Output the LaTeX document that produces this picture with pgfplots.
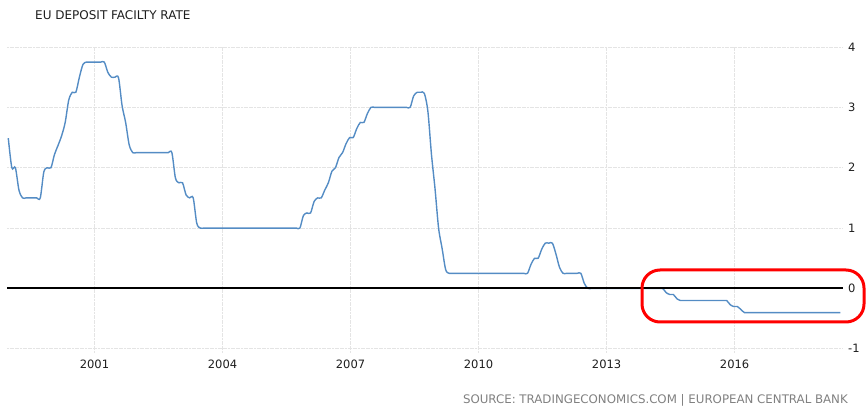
\documentclass[border=0pt]{standalone}
\usepackage{pgfplots}
\pgfplotsset{compat=1.18}
\usepackage{pgfplotstable}
\usepackage{fontspec}
\setmainfont{DejaVu Sans}
\definecolor{rateblue}{RGB}{84,140,196}
\definecolor{gridgray}{RGB}{228,228,228}
\definecolor{txt}{RGB}{30,30,30}
\definecolor{srcgray}{RGB}{128,128,128}

% monthly deposit facility rate, Jan 1999 onwards
\pgfplotstableread[row sep=\\]{
v\\
2.49\\2.0\\2.0\\1.63\\1.5\\1.5\\1.5\\1.5\\1.5\\1.5\\1.93\\2.0\\
2.0\\2.22\\2.37\\2.53\\2.75\\3.12\\3.25\\3.25\\3.5\\3.71\\3.75\\3.75\\
3.75\\3.75\\3.75\\3.75\\3.58\\3.5\\3.5\\3.49\\3.03\\2.75\\2.38\\2.25\\
2.25\\2.25\\2.25\\2.25\\2.25\\2.25\\2.25\\2.25\\2.25\\2.25\\2.25\\1.83\\
1.75\\1.75\\1.55\\1.5\\1.5\\1.08\\1.0\\1.0\\1.0\\1.0\\1.0\\1.0\\
1.0\\1.0\\1.0\\1.0\\1.0\\1.0\\1.0\\1.0\\1.0\\1.0\\1.0\\1.0\\
1.0\\1.0\\1.0\\1.0\\1.0\\1.0\\1.0\\1.0\\1.0\\1.0\\1.0\\1.21\\
1.25\\1.25\\1.44\\1.5\\1.5\\1.63\\1.75\\1.94\\2.0\\2.17\\2.25\\2.40\\
2.5\\2.5\\2.65\\2.75\\2.75\\2.9\\3.0\\3.0\\3.0\\3.0\\3.0\\3.0\\
3.0\\3.0\\3.0\\3.0\\3.0\\3.0\\3.19\\3.25\\3.25\\3.23\\2.93\\2.22\\
1.65\\1.0\\0.66\\0.31\\0.25\\0.25\\0.25\\0.25\\0.25\\0.25\\0.25\\0.25\\
0.25\\0.25\\0.25\\0.25\\0.25\\0.25\\0.25\\0.25\\0.25\\0.25\\0.25\\0.25\\
0.25\\0.25\\0.25\\0.40\\0.5\\0.5\\0.65\\0.75\\0.75\\0.75\\0.57\\0.35\\
0.25\\0.25\\0.25\\0.25\\0.25\\0.25\\0.08\\0\\0\\0\\0\\0\\
0\\0\\0\\0\\0\\0\\0\\0\\0\\0\\0\\0\\
0\\0\\0\\0\\0\\-0.07\\-0.1\\-0.1\\-0.17\\-0.2\\-0.2\\-0.2\\
-0.2\\-0.2\\-0.2\\-0.2\\-0.2\\-0.2\\-0.2\\-0.2\\-0.2\\-0.2\\-0.2\\-0.27\\
-0.3\\-0.3\\-0.35\\-0.4\\-0.4\\-0.4\\-0.4\\-0.4\\-0.4\\-0.4\\-0.4\\-0.4\\
-0.4\\-0.4\\-0.4\\-0.4\\-0.4\\-0.4\\-0.4\\-0.4\\-0.4\\-0.4\\-0.4\\-0.4\\
-0.4\\-0.4\\-0.4\\-0.4\\-0.4\\-0.4\\-0.4\\
}\ratedata

\begin{document}
\begin{tikzpicture}[x=1pt,y=1pt]
\useasboundingbox (0,0) rectangle (866,406);
\begin{axis}[
  at={(7pt,53pt)}, anchor=south west,
  width=836pt, height=306pt, scale only axis,
  xmin=1998.95, xmax=2018.54, ymin=-1.07, ymax=4,
  axis line style={draw=none},
  xtick={2001,2004,2007,2010,2013,2016},
  xticklabels={2001,2004,2007,2010,2013,2016},
  ytick={-1,0,1,2,3,4},
  yticklabels={-1,0,1,2,3,4},
  yticklabel pos=right,
  major tick length=0pt,
  grid=major,
  grid style={gridgray, line width=0.8pt, dash pattern=on 2pt off 0.6pt},
  xticklabel style={font=\fontsize{11.5}{14}\selectfont, text=txt, inner sep=0pt, anchor=north, yshift=-7pt},
  yticklabel style={font=\fontsize{11.5}{14}\selectfont, text=txt, inner sep=0pt, anchor=west, xshift=5pt},
  clip=false,
]
\addplot[rateblue, line width=1.4pt, smooth, tension=0.5] table[x expr=1998.98+\coordindex/12, y=v] {\ratedata};
\addplot[black, line width=2.1pt] coordinates {(1998.95,0) (2018.54,0)};
\end{axis}
\draw[red, line width=3pt, rounded corners=18pt] (642,84) rectangle (864,136);
\node[anchor=base west, inner sep=0pt, text=txt, font=\fontsize{12}{14}\selectfont] at (35,386) {EU DEPOSIT FACILTY RATE};
\node[anchor=base east, inner sep=0pt, text=srcgray, font=\fontsize{11.8}{14}\selectfont] at (848,2) {SOURCE: TRADINGECONOMICS.COM \textbar{} EUROPEAN CENTRAL BANK};
\end{tikzpicture}
\end{document}
